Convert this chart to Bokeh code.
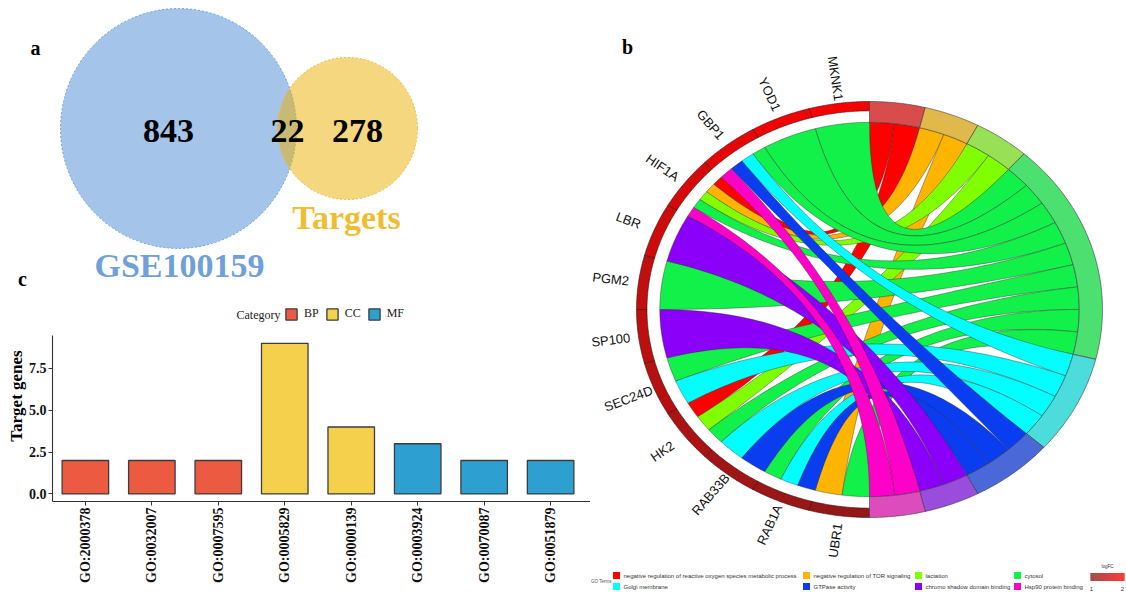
import numpy as np
from bokeh.plotting import figure
from bokeh.models import Range1d, FixedTicker, NumeralTickFormatter, ColumnDataSource
from bokeh.layouts import row, column
from bokeh.embed import file_html
from bokeh.resources import INLINE
from bokeh.core.properties import value

SERIF = "Liberation Serif"
SANS = "Liberation Sans"

# ---------------- a: Venn diagram ----------------
venn_names = ["GSE100159", "Targets"]
venn_only = [843, 278]
venn_shared = 22
venn_fill = ["#4A8AD4", "#EBAF00"]
venn_edge = ["#6B9FD8", "#E9BC48"]
venn_label_color = ["#6FA0DA", "#EFBE30"]

# ---------------- c: GO term bar chart ----------------
go_ids = ["GO:2000378", "GO:0032007", "GO:0007595", "GO:0005829",
          "GO:0000139", "GO:0003924", "GO:0070087", "GO:0051879"]
go_counts = [2, 2, 2, 9, 4, 3, 2, 2]
go_category = ["BP", "BP", "BP", "CC", "CC", "MF", "MF", "MF"]
cat_names = ["BP", "CC", "MF"]
cat_colors = ["#EB5A41", "#F5D04D", "#2E9FD1"]

# ---------------- b: GO chord ----------------
genes = ["MKNK1", "YOD1", "GBP1", "HIF1A", "LBR", "PGM2",
         "SP100", "SEC24D", "HK2", "RAB33B", "RAB1A", "UBR1"]
gene_logfc = [1.92, 1.88, 1.78, 1.64, 1.58, 1.48, 1.42, 1.36, 1.28, 1.18, 1.12, 1.08]
terms = ["negative regulation of reactive oxygen species metabolic process",
         "negative regulation of TOR signaling", "lactation", "cytosol",
         "Golgi membrane", "GTPase activity", "chromo shadow domain binding",
         "Hsp90 protein binding"]
term_colors = ["#FF0000", "#FFB400", "#80FF00", "#12F04A",
               "#00FFFF", "#0A3CF0", "#8A00F8", "#FF00C8"]
term_ring_colors = ["#D94C4C", "#E0B84C", "#98E055", "#4CE070",
                    "#4CDCDC", "#4A68D8", "#9A4CDC", "#DC4CBC"]
# indices into `terms` for every gene
gene_terms = [[3], [3], [3, 4, 5, 7], [0, 1, 2, 3, 7], [6], [3],
              [6], [3, 4], [0, 2, 3], [4, 5], [3, 4, 5], [1, 3]]
lfc_low, lfc_high = 1.0, 2.0
lfc_colors = ["#8B1A1A", "#FF0000"]


def no_align(fig):
    if "frame_align" in fig.properties():
        fig.frame_align = False


def clean(fig):
    fig.xgrid.visible = False
    fig.ygrid.visible = False
    fig.outline_line_color = None
    fig.background_fill_color = "white"
    fig.border_fill_color = "white"


def mix(c1, c2, t):
    a = [int(c1[i:i + 2], 16) for i in (1, 3, 5)]
    b = [int(c2[i:i + 2], 16) for i in (1, 3, 5)]
    return "#%02x%02x%02x" % tuple(int(round(a[i] + (b[i] - a[i]) * t)) for i in range(3))


# ======== Venn ========
pv = figure(width=590, height=290, x_range=Range1d(0, 590), y_range=Range1d(290, 0),
            x_axis_type=None, y_axis_type=None,
            output_backend="svg", toolbar_location=None, min_border=0)
clean(pv)
no_align(pv)
circ_x = [178, 347]
circ_w = [236, 140]
circ_h = [240, 142]
for i in range(2):
    pv.ellipse(x=[circ_x[i]], y=[128], width=[circ_w[i]], height=[circ_h[i]],
               fill_color=venn_fill[i], fill_alpha=0.5, line_color=venn_edge[i],
               line_dash="2 2", line_width=1)
pv.text(x=[168, 287, 357], y=[130, 130, 130],
        text=[str(venn_only[0]), str(venn_shared), str(venn_only[1])],
        text_font=value(SERIF), text_font_style="bold", text_font_size="34px",
        text_color="black", text_align="center", text_baseline="middle")
pv.text(x=[179, 346], y=[265, 217], text=venn_names,
        text_color=venn_label_color, text_font=value(SERIF), text_font_style="bold",
        text_font_size="34px", text_align="center", text_baseline="middle")
pv.text(x=[35, 22], y=[47, 278], text=["a", "c"], text_font=value(SERIF),
        text_font_style="bold", text_font_size="20px", text_color="black",
        text_align="center", text_baseline="middle")

# ======== Bar chart ========
xpos = list(range(1, len(go_ids) + 1))
bar_src = ColumnDataSource(dict(
    x=xpos, top=go_counts, cat=go_category,
    color=[cat_colors[cat_names.index(c)] for c in go_category]))
ymax = max(go_counts)
pad = 0.05 * ymax
PX_PER_UNIT = 16.74          # vertical scale
PX_PER_CAT = 66.46           # horizontal scale
FRAME_H = 211
FRAME_LEFT = 52              # left border reserved for the y axis
AXIS_X = 45                  # where the panel's left edge sits on the page
x0 = 0.4 + (FRAME_LEFT - AXIS_X) / PX_PER_CAT
ytop = -pad + FRAME_H / PX_PER_UNIT
pb = figure(width=590, height=302, x_range=Range1d(x0, len(go_ids) + 0.6),
            y_range=Range1d(-pad, ytop),
            output_backend="svg", toolbar_location=None,
            min_border_left=FRAME_LEFT, min_border_right=0, min_border_top=0,
            min_border_bottom=302 - FRAME_H)
clean(pb)
no_align(pb)
pb.vbar(x="x", top="top", bottom=0, width=0.7, fill_color="color",
        line_color="#3C3C3C", line_width=1.3, source=bar_src, legend_group="cat")
pb.xaxis.ticker = FixedTicker(ticks=xpos)
pb.xaxis.major_label_overrides = {x: g for x, g in zip(xpos, go_ids)}
pb.xaxis.major_label_orientation = np.pi / 2
pb.yaxis.ticker = FixedTicker(ticks=[0, 2.5, 5, 7.5])
pb.yaxis.formatter = NumeralTickFormatter(format="0.0")
pb.yaxis.bounds = (-pad, ymax + pad)
pb.yaxis.axis_label = "Target genes"
pb.yaxis.axis_label_standoff = 0
pb.yaxis.axis_label_text_font = SERIF
pb.yaxis.axis_label_text_font_style = "bold"
pb.yaxis.axis_label_text_font_size = "17px"
pb.yaxis.axis_label_text_color = "black"
for ax in (pb.xaxis, pb.yaxis):
    ax.axis_line_color = "#333333"
    ax.axis_line_width = 1.1
    ax.major_tick_line_color = "#333333"
    ax.major_tick_out = 4
    ax.major_tick_in = 0
    ax.minor_tick_line_color = None
    ax.major_label_text_font = SERIF
    ax.major_label_text_font_style = "bold"
    ax.major_label_text_font_size = "14px"
    ax.major_label_text_color = "#111111"
    ax.major_label_standoff = 2

# legend: "Category" caption followed by the three keys on one line
cap_x = x0 + (236 - FRAME_LEFT) / PX_PER_CAT
cap_y = -pad + (FRAME_H - 24) / PX_PER_UNIT
pb.text(x=[cap_x], y=[cap_y], text=["Category"], text_font=value(SERIF),
        text_font_size="12px", text_color="#222222", text_align="left",
        text_baseline="middle")
leg = pb.legend[0]
leg.orientation = "horizontal"
leg.location = (284 - FRAME_LEFT, FRAME_H - 31)
leg.label_text_font = SERIF
leg.label_text_font_size = "12px"
leg.label_text_color = "#222222"
leg.glyph_width = 14
leg.glyph_height = 14
leg.label_height = 14
leg.label_width = 14
leg.label_standoff = 6
leg.spacing = 6
leg.padding = 0
leg.margin = 0
leg.border_line_color = None
leg.background_fill_alpha = 0

# ======== Chord diagram ========
CX, CY, RX, RY = 869.0, 309.0, 233.0, 208.0
R_CH, R_GIN, R_LAB = 0.9, 0.955, 1.12

pc = figure(width=536, height=592, x_range=Range1d(590, 1126), y_range=Range1d(592, 0),
            x_axis_type=None, y_axis_type=None,
            output_backend="svg", toolbar_location=None, min_border=0)
clean(pc)
no_align(pc)


def pt(a, r):
    a = np.radians(a)
    return CX + RX * r * np.sin(a), CY - RY * r * np.cos(a)


def arc(a0, a1, r, n=40):
    return pt(np.linspace(a0, a1, n), r)


def bez(a0, a1, r, n=60):
    x0_, y0_ = pt(a0, r)
    x2, y2 = pt(a1, r)
    t = np.linspace(0, 1, n)
    return ((1 - t) ** 2 * x0_ + 2 * (1 - t) * t * CX + t ** 2 * x2,
            (1 - t) ** 2 * y0_ + 2 * (1 - t) * t * CY + t ** 2 * y2)


def band(a0, a1, r0, r1):
    xo, yo = arc(a0, a1, r1)
    xi, yi = arc(a1, a0, r0)
    return list(np.concatenate([xo, xi])), list(np.concatenate([yo, yi]))


n_g = len(genes)
g_span = 180.0 / n_g
term_genes = [[g for g in range(n_g) if t in gene_terms[g]] for t in range(len(terms))]
t_counts = [len(v) for v in term_genes]
unit = 180.0 / sum(t_counts)
t_start = np.concatenate([[0.0], np.cumsum(t_counts)[:-1]]) * unit

rx_, ry_, rc_ = [], [], []
for t in range(len(terms)):
    for k, g in enumerate(term_genes[t]):
        m = gene_terms[g].index(t)
        n = len(gene_terms[g])
        g_hi = -(g * g_span + m * g_span / n)
        g_lo = -(g * g_span + (m + 1) * g_span / n)
        ts = t_start[t] + k * unit
        te = ts + unit
        parts = [arc(g_lo, g_hi, R_CH), bez(g_hi, ts, R_CH),
                 arc(ts, te, R_CH), bez(te, g_lo, R_CH)]
        rx_.append(list(np.concatenate([p[0] for p in parts])))
        ry_.append(list(np.concatenate([p[1] for p in parts])))
        rc_.append(term_colors[t])
pc.patches(xs=rx_, ys=ry_, fill_color=rc_, line_color="#2A2A2A", line_width=0.5,
           line_alpha=0.8)

# gene ring coloured by logFC
gx, gy, gc = [], [], []
for g in range(n_g):
    xs, ys = band(-(g + 1) * g_span, -g * g_span, R_GIN, 1.0)
    gx.append(xs)
    gy.append(ys)
    tt = (gene_logfc[g] - lfc_low) / (lfc_high - lfc_low)
    gc.append(mix(lfc_colors[0], lfc_colors[1], min(max(tt, 0), 1)))
pc.patches(xs=gx, ys=gy, fill_color=gc, line_color="#3A1010", line_width=0.6)

# term ring
tx, ty = [], []
for t in range(len(terms)):
    xs, ys = band(t_start[t], t_start[t] + t_counts[t] * unit, R_CH, 1.0)
    tx.append(xs)
    ty.append(ys)
pc.patches(xs=tx, ys=ty, fill_color=term_ring_colors, line_color="#3A3A3A", line_width=0.6)

# gene labels
la = [-(g + 0.5) * g_span for g in range(n_g)]
lx, ly = pt(np.array(la), R_LAB)
ang = [np.arctan2(-RY * np.cos(np.radians(a)), -RX * np.sin(np.radians(a))) for a in la]
pc.text(x=list(lx), y=list(ly), text=genes, angle=ang, text_font=value(SANS),
        text_font_size="13px", text_color="#111111", text_align="center",
        text_baseline="middle")

# term legend
col_x = [616, 806, 918, 1017]
row_y = [575, 586]
lgx = [col_x[i % 4] for i in range(len(terms))]
lgy = [row_y[i // 4] for i in range(len(terms))]
pc.rect(x=lgx, y=lgy, width=7, height=7, fill_color=term_colors, line_color=None)
pc.text(x=[v + 7 for v in lgx], y=lgy, text=terms, text_font=value(SANS),
        text_font_size="6px", text_color="#333333", text_align="left",
        text_baseline="middle")
pc.text(x=[590.5], y=[580.5], text=["GO Terms"], text_font=value(SANS),
        text_font_size="4.5px", text_color="#555555", text_align="left",
        text_baseline="middle")

# logFC colour key
nstep = 34
kx = [1090.5 + i for i in range(nstep)]
kc = [mix(lfc_colors[0], lfc_colors[1], i / (nstep - 1)) for i in range(nstep)]
pc.rect(x=kx, y=[576.5] * nstep, width=1.05, height=8, fill_color=kc, line_color=None)
pc.text(x=[1107, 1091, 1122], y=[566, 588, 588], text=["logFC", str(int(lfc_low)), str(int(lfc_high))],
        text_font=value(SANS), text_font_size=["4.5px", "6px", "6px"], text_color="#333333",
        text_align="center", text_baseline="middle")

pc.text(x=[627], y=[46], text=["b"], text_font=value(SERIF), text_font_style="bold",
        text_font_size="20px", text_color="black", text_align="center", text_baseline="middle")

left = column(row(pv), row(pb), spacing=0)
layout = row(left, pc, spacing=0)
open("out.html", "w").write(file_html(layout, INLINE))
